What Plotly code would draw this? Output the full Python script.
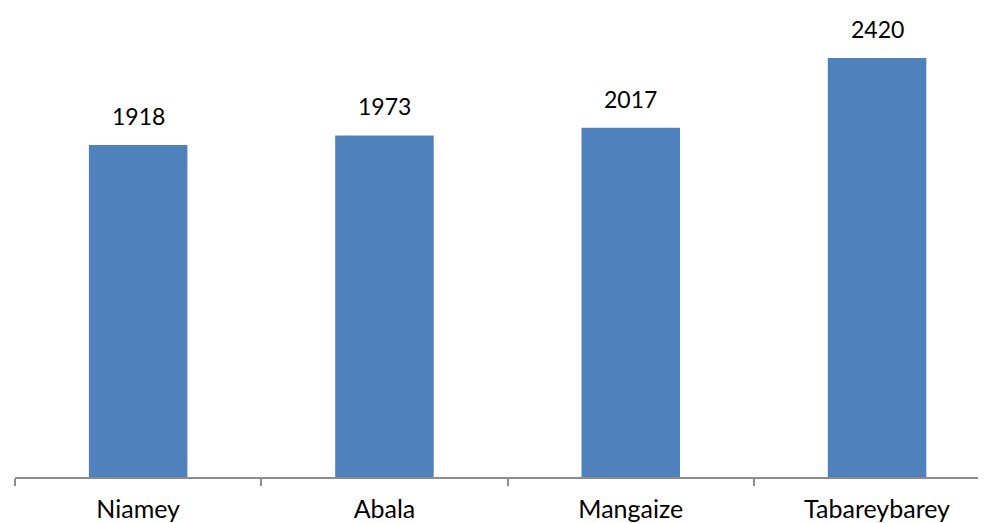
import plotly.graph_objects as go

categories = ["Niamey", "Abala", "Mangaize", "Tabareybarey"]
values = [1918, 1973, 2017, 2420]

# the page body adds an 8px offset, so the figure is laid out relative to it
W, H = 986, 523
left = 7
axis_y = 469
bottom = H - axis_y
plot_w = W - left
cat_px = 246.3
x_hi = -0.5 + plot_w / cat_px
px_per_unit = 419 / 2420
y_hi = axis_y / px_per_unit

font = dict(family="Lato, Open Sans, sans-serif", size=23, color="#000000")
tfont = dict(family="Lato, Open Sans, sans-serif", size=25, color="#000000")

fig = go.Figure(go.Bar(
    x=categories, y=values,
    marker=dict(color="#4F81BD", line=dict(width=0)),
    width=0.4,
))

for c, v in zip(categories, values):
    fig.add_annotation(x=c, y=v, text=str(v), showarrow=False,
                       yanchor="bottom", yshift=13, font=font)

fig.update_layout(
    width=W, height=H,
    margin=dict(l=left, r=0, t=0, b=bottom, autoexpand=False),
    paper_bgcolor="white", plot_bgcolor="white",
    showlegend=False,
    font=font,
)
fig.update_xaxes(
    type="category", range=[-0.5, x_hi], automargin=False,
    showline=True, linecolor="#8C8C8C", linewidth=1.5,
    ticks="outside", tickson="boundaries", ticklen=7, tickcolor="#8C8C8C", tickwidth=1.5,
    showgrid=False, tickfont=tfont, ticklabelstandoff=9,
)
fig.update_yaxes(range=[0, y_hi], visible=False, showgrid=False, automargin=False)

fig.write_html("out.html")
